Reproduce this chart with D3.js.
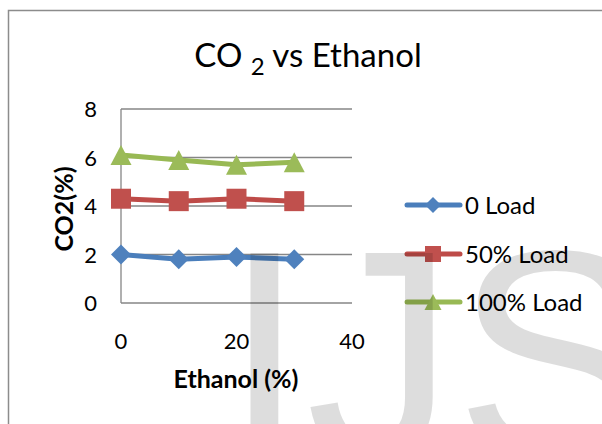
<!DOCTYPE html>
<html>
<head>
<meta charset="utf-8">
<script src="https://cdn.jsdelivr.net/npm/d3@7"></script>
<style>
  body { margin: 0; background: #fff; }
  text { font-family: Lato, "Open Sans", sans-serif; fill: #000; }
</style>
</head>
<body>
<div id="chart"></div>
<script>
// data
const ethanol = [0, 10, 20, 30];
const load0 = [2.0, 1.8, 1.9, 1.8];
const load50 = [4.3, 4.2, 4.3, 4.2];
const load100 = [6.1, 5.9, 5.7, 5.8];
const seriesNames = ["0 Load", "50% Load", "100% Load"];
const xTicks = [0, 20, 40];
const yTicks = [0, 2, 4, 6, 8];

const W = 602, H = 424;
const colors = [
  {line: "#4A7EBB", fill: "#4F81BD"},
  {line: "#BE4B48", fill: "#C0504D"},
  {line: "#98B954", fill: "#9BBB59"}
];
const shapes = ["diamond", "square", "triangle"];

function marker(shape, s) {
  // s = full size in px
  const h = s / 2;
  if (shape === "diamond") return `M0,${-h}L${h},0L0,${h}L${-h},0Z`;
  if (shape === "square") return `M${-h},${-h}H${h}V${h}H${-h}Z`;
  return `M0,${-h}L${h + 0.5},${h}L${-h - 0.5},${h}Z`;
}

var svg = d3.select("#chart")
  .append("svg")
    .attr("width", W)
    .attr("height", H);

// chart border (runs off the right and bottom edge)
svg.append("rect")
  .attr("x", 8.5).attr("y", 10.5)
  .attr("width", 700).attr("height", 500)
  .attr("fill", "none")
  .attr("stroke", "#8c8c8c")
  .attr("stroke-width", 1.5);

var x = d3.scaleLinear().domain([0, 40]).range([121, 352]);
var y = d3.scaleLinear().domain([0, 8]).range([303, 109]);

// gridlines
svg.append("g")
  .selectAll("line")
  .data(yTicks)
  .enter()
  .append("line")
    .attr("x1", x(0)).attr("x2", x(40))
    .attr("y1", d => y(d)).attr("y2", d => y(d))
    .attr("stroke", "#868686")
    .attr("stroke-width", 1.3);

// left axis line
svg.append("line")
  .attr("x1", x(0)).attr("x2", x(0))
  .attr("y1", y(8)).attr("y2", y(0))
  .attr("stroke", "#868686")
  .attr("stroke-width", 1.3);

// y tick labels
svg.append("g")
  .selectAll("text")
  .data(yTicks)
  .enter()
  .append("text")
    .attr("x", 97)
    .attr("y", d => y(d) + 8)
    .attr("text-anchor", "end")
    .style("font-size", "22px")
    .text(d => d);

// x tick labels
svg.append("g")
  .selectAll("text")
  .data(xTicks)
  .enter()
  .append("text")
    .attr("x", d => x(d))
    .attr("y", 349)
    .attr("text-anchor", "middle")
    .style("font-size", "22px")
    .text(d => d);

// axis titles
svg.append("text")
  .attr("x", 236).attr("y", 388)
  .attr("text-anchor", "middle")
  .style("font-size", "25px")
  .style("font-weight", "bold")
  .text("Ethanol (%)");

svg.append("text")
  .attr("transform", "translate(73,209) rotate(-90)")
  .attr("text-anchor", "middle")
  .style("font-size", "25px")
  .style("font-weight", "bold")
  .text("CO2(%)");

// title with subscript
var title = svg.append("text")
  .attr("x", 308).attr("y", 66.5)
  .attr("text-anchor", "middle")
  .style("font-size", "33px");
title.append("tspan").text("CO ");
title.append("tspan").attr("dy", 8).style("font-size", "24px").text("2");
title.append("tspan").attr("dy", -8).text(" vs Ethanol");

// series
const allSeries = [load0, load50, load100];
var line = d3.line()
  .x((d, i) => x(ethanol[i]))
  .y(d => y(d));

allSeries.forEach(function(vals, k) {
  var g = svg.append("g");
  g.append("path")
    .datum(vals)
    .attr("d", line)
    .attr("fill", "none")
    .attr("stroke", colors[k].line)
    .attr("stroke-width", 5)
    .attr("stroke-linejoin", "round");
  g.selectAll("path.m")
    .data(vals)
    .enter()
    .append("path")
      .attr("class", "m")
      .attr("transform", (d, i) => "translate(" + x(ethanol[i]) + "," + y(d) + ")")
      .attr("d", marker(shapes[k], 20))
      .attr("fill", colors[k].fill);
});

// legend
const legendY = [205, 254, 302];
var legend = svg.append("g");
seriesNames.forEach(function(name, k) {
  var row = legend.append("g").attr("transform", "translate(0," + legendY[k] + ")");
  row.append("line")
    .attr("x1", 407).attr("x2", 460)
    .attr("stroke", colors[k].line)
    .attr("stroke-width", 5)
    .attr("stroke-linecap", "round");
  row.append("path")
    .attr("transform", "translate(433,0)")
    .attr("d", marker(shapes[k], 16))
    .attr("fill", colors[k].fill);
  row.append("text")
    .attr("x", 465).attr("y", 8.5)
    .style("font-size", "24px")
    .text(name);
});

// watermark over everything, semi transparent
svg.append("text")
  .attr("x", 223).attr("y", 458)
  .style("font-family", "'Liberation Sans', Arial, sans-serif")
  .style("font-size", "298px")
  .style("fill", "#000")
  .style("fill-opacity", 0.135)
  .text("IJS");
</script>
</body>
</html>
